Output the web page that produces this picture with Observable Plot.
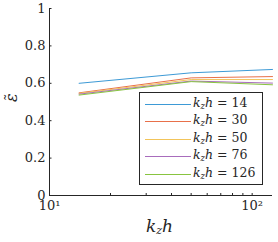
<!DOCTYPE html>
<html>
<head>
<meta charset="utf-8">
<script src="https://cdn.jsdelivr.net/npm/d3@7"></script>
<script src="https://cdn.jsdelivr.net/npm/@observablehq/plot@0.6"></script>
<style>
  body { margin: 0; background: #fff; }
  #wrap { position: relative; width: 278px; height: 242px; font-family: "DejaVu Serif", serif; color: #262626; }
  #wrap svg text { font-family: "DejaVu Serif", serif; }
  .lbl { position: absolute; white-space: nowrap; }
  #legend { position: absolute; left: 139px; top: 92px; width: 122px; height: 91px; border: 1px solid #262626; background: #fff; box-sizing: content-box; }
  .row { position: absolute; left: 0; height: 17px; width: 122px; font-size: 12.5px; }
  .row .sw { position: absolute; left: 5px; top: 9px; width: 46px; height: 0; border-top: 1px solid; }
  .row .tx { position: absolute; left: 53px; top: 0px; }
  i { font-style: italic; }
  sub { font-size: 8.5px; vertical-align: -2px; line-height: 0; }
</style>
</head>
<body>
<div id="wrap"></div>
<script>
const xValues = [14, 50, 126];
const seriesNames = ["14", "30", "50", "76", "126"];
const seriesValues = [
  [0.600, 0.656, 0.674],
  [0.549, 0.629, 0.636],
  [0.546, 0.620, 0.620],
  [0.542, 0.612, 0.601],
  [0.537, 0.609, 0.592]
];
const colors = ["#3d9ad6", "#e8704a", "#f2c45a", "#a86cbc", "#88c440"];
const yTicks = [0, 0.2, 0.4, 0.6, 0.8, 1];
const yTickLabels = {0: "0", 0.2: "0.2", 0.4: "0.4", 0.6: "0.6", 0.8: "0.8", 1: "1"};
const xMajorTicks = [10, 100];
const xMajorLabels = {10: "10¹", 100: "10²"};
const xMinorTicks = [20, 30, 40, 50, 60, 70, 80, 90, 100];

const data = [];
seriesValues.forEach((vals, i) => vals.forEach((v, j) => data.push({x: xValues[j], y: v, s: seriesNames[i]})));

const chart = Plot.plot({
  width: 278, height: 242,
  marginLeft: 49, marginRight: 6, marginTop: 8, marginBottom: 47,
  style: {fontFamily: "DejaVu Serif, serif", fontSize: "13px", color: "#262626", background: "white", overflow: "visible"},
  x: {type: "log", domain: [10, 126]},
  y: {domain: [0, 1]},
  color: {domain: seriesNames, range: colors},
  marks: [
    Plot.axisY(yTicks, {tickSize: 0, tickPadding: 4, tickFormat: d => yTickLabels[d], label: null, fontSize: 13}),
    Plot.axisY(yTicks, {tickSize: -2.5, tickFormat: () => "", label: null, stroke: "#262626"}),
    Plot.axisX(xMinorTicks, {tickSize: -2, tickFormat: () => "", label: null, stroke: "#262626"}),
    Plot.text(xMajorTicks, {x: d => d, frameAnchor: "bottom", dy: 14, text: d => xMajorLabels[d], fontSize: 13, fill: "#262626"}),
    Plot.text(["ε"], {frameAnchor: "left", dx: -38, rotate: -90, text: d => d, fontSize: 16, fontStyle: "italic", fill: "#262626", lineAnchor: "middle"}),
    Plot.text(["˜"], {frameAnchor: "left", dx: -38, dy: -1, rotate: -90, text: d => d, fontSize: 15, fill: "#262626", lineAnchor: "middle"}),
    Plot.ruleX([10], {stroke: "#262626"}),
    Plot.ruleY([0], {stroke: "#262626"}),
    Plot.line(data, {x: "x", y: "y", z: "s", stroke: "s", strokeWidth: 1})
  ]
});

const wrap = document.getElementById("wrap");
wrap.appendChild(chart);

const xl = document.createElement("div");
xl.className = "lbl";
xl.style.cssText = "left:146px; top:216px; font-size:17px;";
xl.innerHTML = "<i>k<sub style='font-size:11px'>z</sub>h</i>";
wrap.appendChild(xl);

const lg = document.createElement("div");
lg.id = "legend";
seriesNames.forEach((n, i) => {
  const r = document.createElement("div");
  r.className = "row";
  r.style.top = (2 + i * 17.4) + "px";
  r.innerHTML = `<div class="sw" style="border-color:${colors[i]}"></div><div class="tx"><i>k<sub>z</sub>h</i> = ${n}</div>`;
  lg.appendChild(r);
});
wrap.appendChild(lg);
</script>
</body>
</html>
